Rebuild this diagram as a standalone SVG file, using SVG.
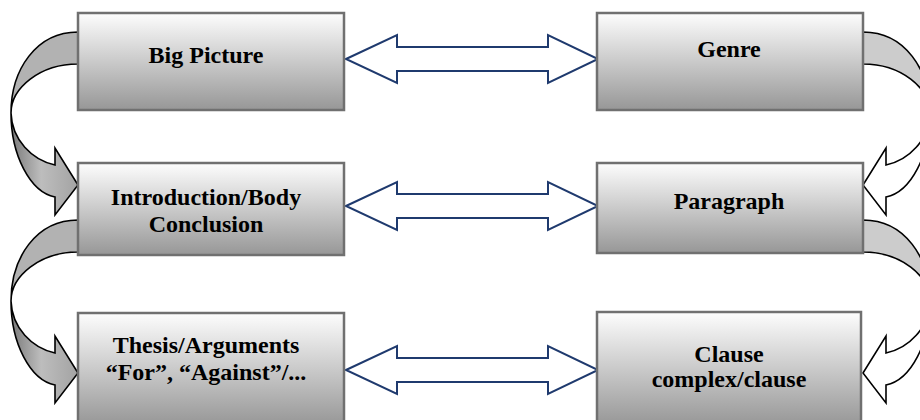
<svg xmlns="http://www.w3.org/2000/svg" xmlns:xlink="http://www.w3.org/1999/xlink" width="920" height="420" viewBox="0 0 920 420">
  <style>
    .box { fill: url(#boxGrad); stroke: #707070; stroke-width: 2.5; }
    .lbl { font-family: "Liberation Serif", "Times New Roman", serif; font-weight: bold; font-size: 24px; fill: #000; text-anchor: middle; }
    .dbl { fill: #ffffff; stroke: #1f3a6e; stroke-width: 2; stroke-linejoin: miter; }
    .cv { stroke: #000; stroke-width: 1.6; stroke-linejoin: miter; }
  </style>
  <defs>
    <linearGradient id="boxGrad" x1="0" y1="0" x2="0" y2="1">
      <stop offset="0" stop-color="#fdfdfd"/>
      <stop offset="1" stop-color="#979797"/>
    </linearGradient>
    <linearGradient id="frontGrad" gradientUnits="userSpaceOnUse" x1="11" y1="0" x2="78" y2="0">
      <stop offset="0" stop-color="#7a7a7a"/>
      <stop offset="0.45" stop-color="#bdbdbd"/>
      <stop offset="1" stop-color="#a3a3a3"/>
    </linearGradient>
    <path id="dblArrow" d="M346,0 L397,-24 L397,-12 L548,-12 L548,-24 L598,0 L548,24 L548,12 L397,12 L397,24 Z"/>
    <path id="backBand" d="M78,32 C36,32 11,70 11,113 C11,88 40,64 78,64 Z"/>
    <path id="frontBand" d="M11,113 C11,155 30,192 55,197 L55,215 L78,185 L55,148 L55,165 C32,160 12,140 11,113 Z"/>
  </defs>

  <g id="connectors">
    <use xlink:href="#dblArrow" class="dbl" transform="translate(0,59)"/>
    <use xlink:href="#dblArrow" class="dbl" transform="translate(0,206)"/>
    <use xlink:href="#dblArrow" class="dbl" transform="translate(0,370)"/>
    <g id="left-curve-1">
      <use xlink:href="#backBand" class="cv" fill="#b2b2b2"/>
      <use xlink:href="#frontBand" class="cv" fill="url(#frontGrad)"/>
    </g>
    <g id="left-curve-2" transform="translate(0,188)">
      <use xlink:href="#backBand" class="cv" fill="#b2b2b2"/>
      <use xlink:href="#frontBand" class="cv" fill="url(#frontGrad)"/>
    </g>
    <g id="right-curve-1" transform="translate(941,0) scale(-1,1)">
      <use xlink:href="#backBand" class="cv" fill="#cccccc"/>
      <use xlink:href="#frontBand" class="cv" fill="#ffffff"/>
    </g>
    <g id="right-curve-2" transform="translate(941,188) scale(-1,1)">
      <use xlink:href="#backBand" class="cv" fill="#cccccc"/>
      <use xlink:href="#frontBand" class="cv" fill="#ffffff"/>
    </g>
  </g>

  <g id="big-picture">
    <rect class="box" x="78" y="13" width="266" height="97"/>
    <text class="lbl" x="206" y="63">Big Picture</text>
  </g>
  <g id="genre">
    <rect class="box" x="597" y="13" width="266" height="97"/>
    <text class="lbl" x="729" y="57">Genre</text>
  </g>
  <g id="introduction">
    <rect class="box" x="78" y="163" width="266" height="92"/>
    <text class="lbl" x="206" y="205">Introduction/Body</text>
    <text class="lbl" x="206" y="232">Conclusion</text>
  </g>
  <g id="paragraph">
    <rect class="box" x="597" y="163" width="266" height="90"/>
    <text class="lbl" x="729" y="209">Paragraph</text>
  </g>
  <g id="thesis">
    <rect class="box" x="78" y="313" width="266" height="112"/>
    <text class="lbl" x="206" y="353">Thesis/Arguments</text>
    <text class="lbl" x="206" y="380">“For”, “Against”/...</text>
  </g>
  <g id="clause">
    <rect class="box" x="597" y="312" width="264" height="113"/>
    <text class="lbl" x="729" y="362">Clause</text>
    <text class="lbl" x="729" y="387">complex/clause</text>
  </g>
</svg>
